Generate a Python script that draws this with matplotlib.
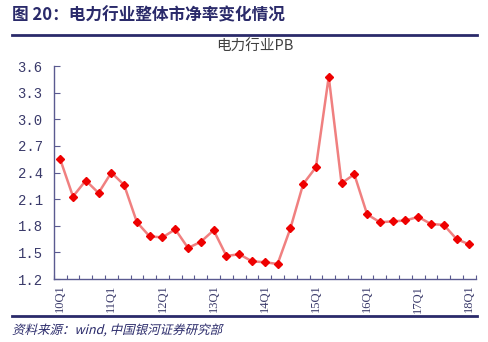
import matplotlib
matplotlib.use("Agg")
import matplotlib.pyplot as plt
from matplotlib.lines import Line2D
from matplotlib.patches import PathPatch
from matplotlib.textpath import TextPath
from matplotlib.font_manager import FontProperties
from matplotlib.transforms import Affine2D, IdentityTransform
from matplotlib.ticker import MultipleLocator, FixedLocator

plt.rcParams['font.family'] = ['Noto Sans CJK SC', 'DejaVu Sans']

# quarterly PB, 10Q1 .. 18Q1
quarters = [f"{y}Q{q}" for y in range(10, 19) for q in range(1, 5)][:33]
pb = [2.55, 2.13, 2.31, 2.17, 2.40, 2.26, 1.84, 1.68, 1.67, 1.76, 1.55,
      1.62, 1.75, 1.46, 1.48, 1.40, 1.39, 1.37, 1.77, 2.27, 2.46, 3.48,
      2.28, 2.38, 1.93, 1.84, 1.85, 1.86, 1.90, 1.82, 1.81, 1.65, 1.59]

navy = '#2a2a6a'
axis_c = '#5a5a90'
label_c = '#3a3a6a'

fig = plt.figure(figsize=(4.89, 3.42), dpi=100)
ax = fig.add_axes([0.110, 0.184, 0.863, 0.623])

x = list(range(len(pb)))
ax.plot(x, pb, color='#f08080', linewidth=1.8, zorder=2)
ax.plot(x, pb, linestyle='none', marker='D', markersize=4.2,
        color='#ee0000', zorder=3)

ax.set_xlim(-0.5, len(pb) - 0.5)
ax.set_ylim(1.2, 3.6)
ax.yaxis.set_major_locator(MultipleLocator(0.3))
ax.set_yticklabels([f"{v:.1f}" for v in ax.get_yticks()],
                   family='Liberation Mono', fontsize=10, color=label_c)

ax.xaxis.set_major_locator(FixedLocator([i - 0.5 for i in range(len(pb) + 1)]))
ax.xaxis.set_minor_locator(FixedLocator(list(range(0, len(pb), 4))))
ax.set_xticklabels([])
ax.set_xticklabels([quarters[i] for i in range(0, len(pb), 4)], minor=True,
                   rotation=90, ha='center', family='Liberation Serif',
                   fontsize=9, color=label_c)
ax.tick_params(axis='x', which='major', direction='in', length=3,
               color=axis_c)
ax.tick_params(axis='x', which='minor', length=0, pad=4)
ax.tick_params(axis='y', direction='in', length=4, color=axis_c, pad=8)

for s in ['top', 'right']:
    ax.spines[s].set_visible(False)
for s in ['left', 'bottom']:
    ax.spines[s].set_color(axis_c)
    ax.spines[s].set_linewidth(1.0)

fig.text(0.025, 0.955, "图 20：电力行业整体市净率变化情况", fontsize=12,
         fontweight='bold', color=navy, va='center', ha='left')
fig.add_artist(Line2D([0.025, 0.975], [0.898, 0.898], color=navy,
                      linewidth=2.0, transform=fig.transFigure))
fig.text(0.522, 0.862, "电力行业PB", fontsize=10.5, color='#404040',
         ha='center', va='center')
fig.add_artist(Line2D([0.025, 0.975], [0.075, 0.075], color=navy,
                      linewidth=2.0, transform=fig.transFigure))

# italic source note (CJK font has no italic, so shear the glyph outlines)
src = TextPath((0, 0), "资料来源：wind, 中国银河证券研究部", size=12.5,
               prop=FontProperties(family=['Noto Sans CJK SC', 'DejaVu Sans']))
src_tr = Affine2D().skew_deg(14, 0).translate(12, 342 - 334)
fig.add_artist(PathPatch(src_tr.transform_path(src), facecolor=navy,
                         edgecolor='none', transform=IdentityTransform()))

fig.savefig("out.png", dpi=100)
